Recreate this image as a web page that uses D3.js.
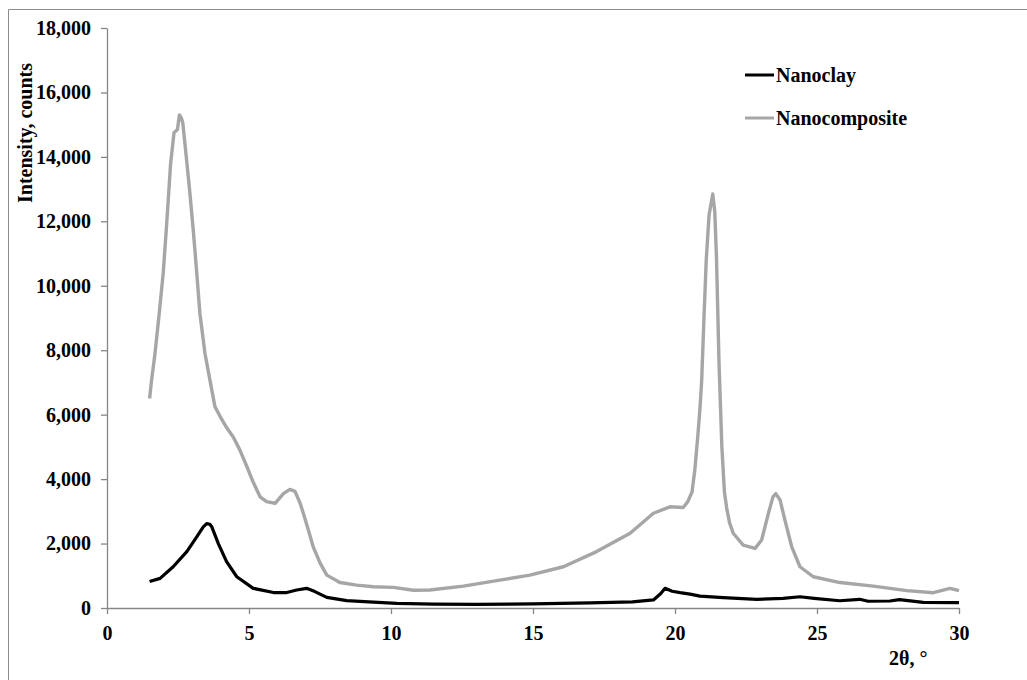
<!DOCTYPE html>
<html>
<head>
<meta charset="utf-8">
<script src="https://cdn.jsdelivr.net/npm/d3@7"></script>
<style>
    body { margin: 0; background: #fff; }
    .tick text, .label, .legend {
        font-family: "Liberation Serif", "Times New Roman", serif;
        font-weight: bold;
        fill: #000;
    }
</style>
</head>
<body>
<div id="viz_container"></div>
<script>
// 2theta / intensity readings for each pattern
const clayAngle = [1.5, 1.87, 2.33, 2.81, 3.16, 3.39, 3.51, 3.62, 3.69, 3.92, 4.21, 4.57, 5.15, 5.86, 6.33,
    6.68, 7.03, 7.32, 7.74, 8.44, 9.38, 10.2, 11.5, 13, 15, 17, 18.5, 19.24, 19.5, 19.65, 19.9, 20.18,
    20.53, 20.88, 21.7, 22.88, 23.8, 24.4, 24.9, 25.8, 26.5, 26.8, 27.57, 27.9, 28.74, 29.9, 30];
const clayCounts = [820, 920, 1280, 1750, 2210, 2520, 2620, 2600, 2520, 2000, 1440, 970, 610, 480, 480,
    560, 610, 510, 330, 230, 180, 145, 120, 110, 130, 160, 190, 250, 450, 610, 520, 475,
    430, 370, 320, 270, 300, 350, 300, 225, 270, 210, 217, 260, 175, 165, 165];

const compAngle = [1.5, 1.57, 1.69, 1.84, 1.98, 2.1, 2.24, 2.36, 2.48, 2.55, 2.62, 2.67, 2.78, 2.9, 3.04,
    3.16, 3.27, 3.45, 3.63, 3.8, 3.98, 4.21, 4.45, 4.68, 4.92, 5.15, 5.39, 5.62, 5.92, 6.21, 6.44, 6.62,
    6.8, 6.91, 7.09, 7.26, 7.5, 7.74, 8.2, 8.79, 9.38, 10.08, 10.79, 11.37, 12.55, 13.72, 14.89, 16.07,
    17.24, 18.42, 19.24, 19.82, 20.29, 20.45, 20.6, 20.7, 20.8, 20.88, 20.94, 21.02, 21.1, 21.2, 21.33,
    21.4, 21.46, 21.55, 21.65, 21.74, 21.82, 21.92, 22.05, 22.4, 22.82, 23.05, 23.29, 23.45, 23.55, 23.7,
    23.87, 24.11, 24.4, 24.87, 25.81, 26.98, 28.16, 29.1, 29.68, 30];
const compCounts = [6500, 7070, 7900, 9150, 10400, 11900, 13800, 14750, 14850, 15300, 15200, 15050, 14100, 13050, 11700,
    10400, 9150, 7900, 7050, 6250, 5950, 5600, 5300, 4900, 4400, 3900, 3450, 3300, 3250, 3550, 3680, 3620,
    3250, 2950, 2420, 1900, 1400, 1020, 790, 710, 660, 640, 550, 560, 680, 850, 1020, 1280,
    1750, 2320, 2940, 3140, 3120, 3300, 3600, 4300, 5300, 6200, 7070, 9000, 10800, 12200, 12850,
    12300, 10900, 7600, 5000, 3600, 3100, 2650, 2320, 1950, 1850, 2110, 2940, 3450, 3550, 3350,
    2730, 1900, 1280, 970, 790, 680, 540, 475, 610, 540];

const seriesNames = ["Nanoclay", "Nanocomposite"];
const xTicks = [0, 5, 10, 15, 20, 25, 30];
const yTicks = [0, 2000, 4000, 6000, 8000, 10000, 12000, 14000, 16000, 18000];

const W = 1027, H = 680;
const plot = { left: 107, right: 959, top: 28, bottom: 608 };

const svg = d3.select("#viz_container")
    .append("svg")
    .attr("width", W)
    .attr("height", H);

// outer frame (top and left edges only visible)
svg.append("path")
    .attr("d", `M8.5,${H} V9.5 H${W}`)
    .attr("fill", "none")
    .attr("stroke", "#8c8c8c")
    .attr("stroke-width", 1);

const xScale = d3.scaleLinear().domain([0, 30]).range([plot.left, plot.right]);
const yScale = d3.scaleLinear().domain([0, 18000]).range([plot.bottom, plot.top]);

// axes
const xAxis = svg.append("g")
    .attr("transform", `translate(0, ${plot.bottom})`)
    .call(d3.axisBottom(xScale).tickValues(xTicks).tickSizeInner(6).tickSizeOuter(0).tickPadding(9).tickFormat(d3.format("d")));
const yAxis = svg.append("g")
    .attr("transform", `translate(${plot.left}, 0)`)
    .call(d3.axisLeft(yScale).tickValues(yTicks).tickSizeInner(6).tickSizeOuter(0).tickPadding(10).tickFormat(d3.format(",")));

[xAxis, yAxis].forEach(a => {
    a.selectAll(".domain, line").attr("stroke", "#868686").attr("stroke-width", 1.3);
    a.selectAll("text").style("font-size", "20px");
});
xAxis.selectAll("text").attr("dy", "0.85em");

// lines
const line = d3.line()
    .x(d => xScale(d[0]))
    .y(d => yScale(d[1]));

const compData = d3.zip(compAngle, compCounts);
const clayData = d3.zip(clayAngle, clayCounts);

svg.append("path")
    .datum(compData)
    .attr("fill", "none")
    .attr("stroke", "#a6a6a6")
    .attr("stroke-width", 3.4)
    .attr("stroke-linejoin", "round")
    .attr("d", line);

svg.append("path")
    .datum(clayData)
    .attr("fill", "none")
    .attr("stroke", "#000")
    .attr("stroke-width", 3.2)
    .attr("stroke-linejoin", "round")
    .attr("d", line);

// axis titles
svg.append("text")
    .attr("class", "label")
    .attr("transform", "translate(32, 133) rotate(-90)")
    .attr("text-anchor", "middle")
    .style("font-size", "20px")
    .text("Intensity, counts");

svg.append("text")
    .attr("class", "label")
    .attr("x", 889)
    .attr("y", 665)
    .style("font-size", "20px")
    .text("2θ, °");

// legend
const legendColors = ["#000", "#a6a6a6"];
seriesNames.forEach((name, i) => {
    const ly = 75 + i * 43;
    svg.append("line")
        .attr("x1", 745).attr("x2", 774)
        .attr("y1", ly).attr("y2", ly)
        .attr("stroke", legendColors[i])
        .attr("stroke-width", 3);
    svg.append("text")
        .attr("class", "legend")
        .attr("x", 776)
        .attr("y", ly + 7)
        .style("font-size", "20px")
        .text(name);
});
</script>
</body>
</html>
